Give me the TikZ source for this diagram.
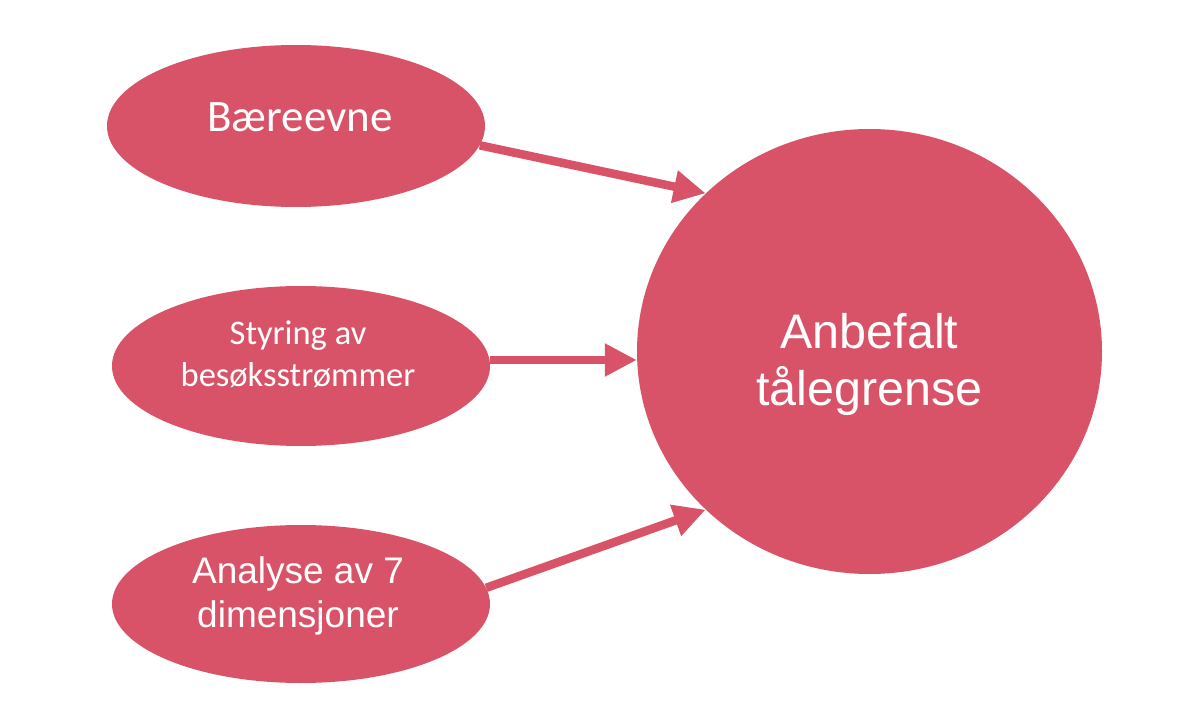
\documentclass[tikz,border=0pt]{standalone}
\usepackage{fontspec}
\setmainfont{Liberation Sans}
\newfontfamily\calib{Carlito}
\newfontfamily\arialf{Liberation Sans}
\usetikzlibrary{arrows.meta,shapes.geometric}
\definecolor{rose}{RGB}{216,82,104}
\begin{document}
\begin{tikzpicture}[x=1pt,y=-1pt,
  blob/.style={ellipse, fill=rose, draw=none, inner sep=0pt},
  lbl/.style={text=white, inner sep=0pt, align=center},
  conn/.style={draw=rose, line width=8.5pt, -{Triangle[length=32pt,width=31pt]}}]
\useasboundingbox[fill=white] (0,0) rectangle (1200,727);
\node[blob, minimum width=378pt, minimum height=162pt] (a) at (296,126) {};
\node[blob, minimum width=378pt, minimum height=160pt] (b) at (301,366) {};
\node[blob, minimum width=378pt, minimum height=158pt] (d) at (301,604) {};
\node[blob, minimum width=465pt, minimum height=445pt] (c) at (869.5,351.5) {};
\node[lbl, anchor=base, font=\calib\fontsize{45}{54}\selectfont] (ta) at (300,132) {Bæreevne};
\node[lbl, anchor=base, font=\calib\fontsize{34.5}{42}\selectfont] (tb) at (298,387) {Styring av\\besøksstrømmer};
\node[lbl, anchor=base, font=\arialf\fontsize{37}{44}\selectfont] (td) at (298,627) {Analyse av 7\\dimensjoner};
\node[lbl, anchor=base, font=\arialf\fontsize{48.5}{58}\selectfont] (tc) at (869.5,406) {Anbefalt\\tålegrense};
\draw[conn] (a.-6.2) -- (c.136.4);
\draw[conn] ([yshift=6pt]b.east) -- ([yshift=6pt]b.east -| c.west);
\draw[conn] (d.5.8) -- (c.-136.6);
\end{tikzpicture}
\end{document}
